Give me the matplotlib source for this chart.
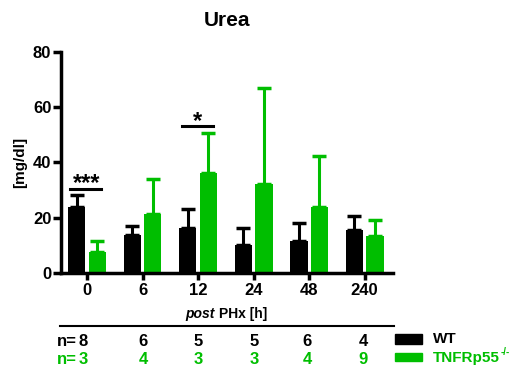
import matplotlib
matplotlib.use("Agg")
import matplotlib.pyplot as plt
import numpy as np

plt.rcParams['font.family'] = ['Liberation Sans', 'DejaVu Sans']
plt.rcParams['font.weight'] = 'bold'

categories = ["0", "6", "12", "24", "48", "240"]
wt_mean = [23.7, 13.8, 16.4, 10.1, 11.4, 15.7]
wt_err = [4.4, 3.1, 6.9, 6.0, 6.7, 4.8]
ko_mean = [7.6, 21.2, 36.3, 32.0, 24.0, 13.4]
ko_err = [4.0, 12.8, 14.2, 35.0, 18.4, 5.7]
wt_n = ["8", "6", "5", "5", "6", "4"]
ko_n = ["3", "4", "3", "3", "4", "9"]

GREEN = "#00BE00"
W, H = 513, 370
fig = plt.figure(figsize=(W / 100, H / 100), dpi=100)
ax = fig.add_axes([61 / W, 1 - 273 / H, (393 - 61) / W, (273 - 51.7) / H])

x = np.arange(len(categories))
bw = 0.31
off = 0.185
ax.bar(x - off, wt_mean, bw, color="black", zorder=2)
ax.bar(x + off, ko_mean, bw, color=GREEN, zorder=2)
ax.errorbar(x - off, wt_mean, yerr=[np.zeros(len(x)), wt_err], fmt="none",
            ecolor="black", elinewidth=2.2, capsize=5, capthick=2.5, zorder=1)
ax.errorbar(x + off, ko_mean, yerr=[np.zeros(len(x)), ko_err], fmt="none",
            ecolor=GREEN, elinewidth=2.2, capsize=5, capthick=2.5, zorder=1)

ax.set_xlim(-0.47, 5.51)
ax.set_ylim(0, 80)
ax.set_yticks([0, 20, 40, 60, 80])
ax.set_xticks(x)
ax.set_xticklabels(categories)
for s in ["top", "right"]:
    ax.spines[s].set_visible(False)
for s in ["left", "bottom"]:
    ax.spines[s].set_linewidth(2.5)
ax.tick_params(axis="both", width=2.5, length=6, labelsize=12, direction="out")
ax.tick_params(axis="x", pad=2, length=5)
ax.tick_params(axis="y", pad=1)
for lab in ax.get_xticklabels() + ax.get_yticklabels():
    lab.set_fontweight("bold")
ax.set_ylabel("[mg/dl]", fontsize=11, fontweight="bold", labelpad=4)
fig.text(227 / W, 1 - 20 / H, "Urea", ha="center", va="center", fontsize=15, fontweight="bold")

# significance
ax.plot([x[0] - 0.306, x[0] + 0.247], [30.4, 30.4], color="black", lw=2.2, clip_on=False)
ax.annotate("***", (x[0] - 0.01, 30.4), xytext=(0, -0.5), textcoords="offset points",
            ha="center", va="baseline", fontsize=17, fontweight="bold")
ax.plot([x[2] - 0.294, x[2] + 0.276], [53.1, 53.1], color="black", lw=2.2, clip_on=False)
ax.annotate("*", (x[2] - 0.01, 53.1), xytext=(0, -1.5), textcoords="offset points",
            ha="center", va="baseline", fontsize=17, fontweight="bold")

def fy(py):
    return 1 - py / H

# bottom annotation
fig.text(219 / W, fy(314), "PHx [h]", ha="left", va="center", fontsize=10, fontweight="bold")
fig.text(219 / W, fy(314), "post ", ha="right", va="center", fontsize=10,
         fontweight="bold", style="italic")
fig.add_artist(plt.Line2D([60 / W, 394 / W], [fy(326), fy(326)], color="black", lw=1.5))

npos = [83, 143, 198, 254, 307, 363]
for i, (a, b) in enumerate(zip(wt_n, ko_n)):
    px = npos[i]
    fig.text(px / W, fy(341), a, ha="center", va="center", fontsize=12, fontweight="bold", color="black")
    fig.text(px / W, fy(360), b, ha="center", va="center", fontsize=12, fontweight="bold", color=GREEN)
fig.text(77 / W, fy(341), "n=", ha="right", va="center", fontsize=12, fontweight="bold", color="black")
fig.text(77 / W, fy(360), "n=", ha="right", va="center", fontsize=12, fontweight="bold", color=GREEN)

# legend
fig.patches.append(plt.Rectangle((395 / W, fy(343.5)), 27 / W, 9.5 / H, color="black", transform=fig.transFigure))
fig.patches.append(plt.Rectangle((395 / W, fy(361)), 27 / W, 8.5 / H, color=GREEN, transform=fig.transFigure))
fig.text(433 / W, fy(339), "WT", ha="left", va="center", fontsize=11, fontweight="bold", color="black")
t = fig.text(433 / W, fy(358), "TNFRp55", ha="left", va="center", fontsize=11,
             fontweight="bold", color=GREEN)
fig.canvas.draw()
bb = t.get_window_extent(fig.canvas.get_renderer())
fig.text(bb.x1 / W + 0.5 / W, fy(352), "-/-", ha="left", va="center", fontsize=7,
         fontweight="bold", color=GREEN)

fig.savefig("out.png", dpi=100)
